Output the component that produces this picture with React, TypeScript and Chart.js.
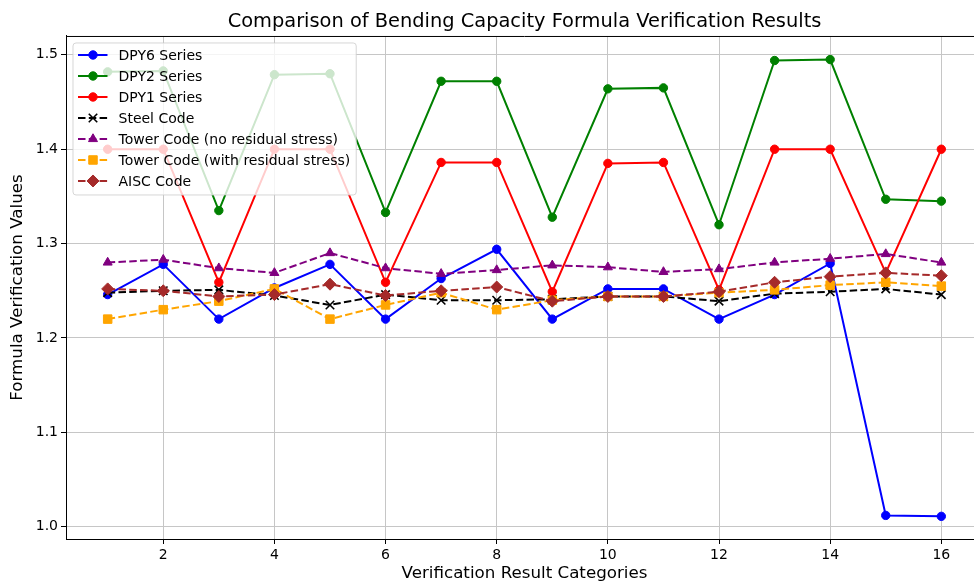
import React, { useEffect, useRef } from 'react';
import { Chart, registerables } from 'chart.js';

Chart.register(...registerables);

const categories = [1, 2, 3, 4, 5, 6, 7, 8, 9, 10, 11, 12, 13, 14, 15, 16];
const dpy6 = [1.246, 1.278, 1.220, 1.253, 1.278, 1.220, 1.263, 1.294, 1.220, 1.252, 1.252, 1.220, 1.246, 1.279, 1.012, 1.011];
const dpy2 = [1.482, 1.483, 1.335, 1.479, 1.480, 1.333, 1.472, 1.472, 1.328, 1.464, 1.465, 1.320, 1.494, 1.495, 1.347, 1.345];
const dpy1 = [1.400, 1.400, 1.259, 1.400, 1.400, 1.259, 1.386, 1.386, 1.249, 1.385, 1.386, 1.251, 1.400, 1.400, 1.269, 1.400];
const steelCode = [1.248, 1.250, 1.251, 1.245, 1.235, 1.246, 1.240, 1.240, 1.241, 1.244, 1.244, 1.239, 1.247, 1.249, 1.252, 1.246];
const towerNoResidual = [1.280, 1.283, 1.274, 1.269, 1.290, 1.274, 1.268, 1.272, 1.277, 1.275, 1.270, 1.273, 1.280, 1.284, 1.289, 1.280];
const towerWithResidual = [1.220, 1.230, 1.239, 1.252, 1.220, 1.235, 1.248, 1.230, 1.240, 1.244, 1.244, 1.248, 1.251, 1.256, 1.259, 1.255];
const aiscCode = [1.252, 1.250, 1.244, 1.246, 1.257, 1.245, 1.250, 1.254, 1.239, 1.244, 1.244, 1.249, 1.259, 1.265, 1.269, 1.266];

const xTicks = [2, 4, 6, 8, 10, 12, 14, 16];
const yTicks = [1.0, 1.1, 1.2, 1.3, 1.4, 1.5];

const seriesLabels = [
  'DPY6 Series',
  'DPY2 Series',
  'DPY1 Series',
  'Steel Code',
  'Tower Code (no residual stress)',
  'Tower Code (with residual stress)',
  'AISC Code',
];
const seriesValues = [dpy6, dpy2, dpy1, steelCode, towerNoResidual, towerWithResidual, aiscCode];

const titleText = 'Comparison of Bending Capacity Formula Verification Results';
const xTitle = 'Verification Result Categories';
const yTitle = 'Formula Verification Values';

const FONT = "'DejaVu Sans', sans-serif";

type Style = { color: string; dash: number[]; point: string; radius: number; bw: number };
const styles: Style[] = [
  { color: '#0000ff', dash: [], point: 'circle', radius: 4.2, bw: 1 },
  { color: '#008000', dash: [], point: 'circle', radius: 4.2, bw: 1 },
  { color: '#ff0000', dash: [], point: 'circle', radius: 4.2, bw: 1 },
  { color: '#000000', dash: [7.5, 3.3], point: 'crossRot', radius: 6, bw: 1.6 },
  { color: '#800080', dash: [7.5, 3.3], point: 'triangle', radius: 5.2, bw: 1 },
  { color: '#ffa500', dash: [7.5, 3.3], point: 'rect', radius: 6, bw: 1 },
  { color: '#a52a2a', dash: [7.5, 3.3], point: 'rectRot', radius: 6, bw: 1 },
];

function drawMarker(ctx: CanvasRenderingContext2D, s: Style, x: number, y: number) {
  const r = s.radius;
  ctx.save();
  ctx.setLineDash([]);
  ctx.fillStyle = s.color;
  ctx.strokeStyle = s.color;
  ctx.lineWidth = s.bw;
  ctx.beginPath();
  if (s.point === 'circle') {
    ctx.arc(x, y, r, 0, Math.PI * 2);
    ctx.fill();
    ctx.stroke();
  } else if (s.point === 'crossRot') {
    const d = r * Math.SQRT1_2;
    ctx.moveTo(x - d, y - d);
    ctx.lineTo(x + d, y + d);
    ctx.moveTo(x - d, y + d);
    ctx.lineTo(x + d, y - d);
    ctx.stroke();
  } else if (s.point === 'triangle') {
    ctx.moveTo(x, y - r);
    ctx.lineTo(x + r * Math.sin(Math.PI / 3), y + r * 0.5);
    ctx.lineTo(x - r * Math.sin(Math.PI / 3), y + r * 0.5);
    ctx.closePath();
    ctx.fill();
    ctx.stroke();
  } else if (s.point === 'rect') {
    const d = r * Math.SQRT1_2;
    ctx.rect(x - d, y - d, 2 * d, 2 * d);
    ctx.fill();
    ctx.stroke();
  } else if (s.point === 'rectRot') {
    ctx.moveTo(x, y - r);
    ctx.lineTo(x + r, y);
    ctx.lineTo(x, y + r);
    ctx.lineTo(x - r, y);
    ctx.closePath();
    ctx.fill();
    ctx.stroke();
  }
  ctx.restore();
}

const framePlugin = {
  id: 'frameAndLegend',
  afterDraw(chart: any) {
    const ctx: CanvasRenderingContext2D = chart.ctx;
    const area = chart.chartArea;
    ctx.save();
    // top and right spines
    ctx.strokeStyle = '#000';
    ctx.lineWidth = 1;
    ctx.beginPath();
    ctx.moveTo(area.left, area.top + 0.5);
    ctx.lineTo(area.right, area.top + 0.5);
    ctx.lineTo(area.right, area.bottom);
    ctx.stroke();

    // legend
    ctx.font = `14px ${FONT}`;
    let maxW = 0;
    seriesLabels.forEach((l) => {
      maxW = Math.max(maxW, ctx.measureText(l).width);
    });
    const bx = area.left + 7;
    const by = area.top + 7;
    const rowH = 21;
    const bw = 45.5 + maxW + 6;
    const bh = 12 + rowH * (seriesLabels.length - 1) + 14;
    ctx.fillStyle = 'rgba(255,255,255,0.8)';
    ctx.strokeStyle = 'rgba(204,204,204,0.8)';
    ctx.lineWidth = 1;
    ctx.beginPath();
    const rr = 3;
    ctx.moveTo(bx + rr, by);
    ctx.lineTo(bx + bw - rr, by);
    ctx.quadraticCurveTo(bx + bw, by, bx + bw, by + rr);
    ctx.lineTo(bx + bw, by + bh - rr);
    ctx.quadraticCurveTo(bx + bw, by + bh, bx + bw - rr, by + bh);
    ctx.lineTo(bx + rr, by + bh);
    ctx.quadraticCurveTo(bx, by + bh, bx, by + bh - rr);
    ctx.lineTo(bx, by + rr);
    ctx.quadraticCurveTo(bx, by, bx + rr, by);
    ctx.closePath();
    ctx.fill();
    ctx.stroke();

    seriesLabels.forEach((label, i) => {
      const s = styles[i];
      const cy = by + 12 + i * rowH;
      ctx.save();
      ctx.strokeStyle = s.color;
      ctx.lineWidth = 2;
      ctx.setLineDash(s.dash);
      ctx.beginPath();
      ctx.moveTo(bx + 5, cy);
      ctx.lineTo(bx + 34.5, cy);
      ctx.stroke();
      ctx.restore();
      drawMarker(ctx, s, bx + 20, cy);
      ctx.fillStyle = '#000';
      ctx.textBaseline = 'middle';
      ctx.textAlign = 'left';
      ctx.font = `14px ${FONT}`;
      ctx.fillText(label, bx + 45.5, cy + 1);
    });
    ctx.restore();
  },
};

export default function App() {
  const canvasRef = useRef<HTMLCanvasElement | null>(null);

  useEffect(() => {
    document.body.style.margin = '0';
    const canvas = canvasRef.current;
    if (!canvas) return;
    const datasets = seriesLabels.map((label, i) => {
      const s = styles[i];
      return {
        label,
        data: categories.map((c, j) => ({ x: c, y: seriesValues[i][j] })),
        borderColor: s.color,
        backgroundColor: s.color,
        borderWidth: 2,
        borderDash: s.dash,
        pointStyle: s.point,
        pointRadius: s.radius,
        pointBorderWidth: s.bw,
        pointBackgroundColor: s.color,
        pointBorderColor: s.color,
        tension: 0,
        order: seriesLabels.length - i,
      };
    });
    const chart = new Chart(canvas, {
      type: 'line',
      data: { datasets },
      options: {
        responsive: false,
        animation: false,
        devicePixelRatio: 1,
        layout: { autoPadding: false, padding: { left: 0, right: 2, top: 0, bottom: 0 } },
        plugins: {
          legend: { display: false },
          tooltip: { enabled: false },
          title: {
            display: true,
            text: titleText,
            fullSize: false,
            color: '#000',
            font: { family: FONT, size: 19.4, weight: 'normal', lineHeight: 1.2 },
            padding: { top: 10, bottom: 2.7 },
          },
        },
        scales: {
          x: {
            type: 'linear',
            min: 0.25,
            max: 16.75,
            afterBuildTicks: (scale: any) => {
              scale.ticks = xTicks.map((v) => ({ value: v }));
            },
            afterFit: (scale: any) => {
              scale.height = 45;
            },
            ticks: {
              color: '#000',
              font: { family: FONT, size: 14 },
              padding: 3,
              maxRotation: 0,
              autoSkip: false,
              callback: (v: any) => String(v),
            },
            grid: {
              color: '#c6c6c6',
              lineWidth: 1,
              drawTicks: true,
              tickLength: 5,
              tickColor: '#000',
            },
            border: { display: true, color: '#000', width: 1 },
            title: {
              display: true,
              text: xTitle,
              color: '#000',
              font: { family: FONT, size: 16.7, lineHeight: 1.2 },
              padding: { top: 4, bottom: 0 },
            },
          },
          y: {
            type: 'linear',
            min: 0.987,
            max: 1.52,
            afterBuildTicks: (scale: any) => {
              scale.ticks = yTicks.map((v) => ({ value: v }));
            },
            afterFit: (scale: any) => {
              scale.width = 66;
            },
            ticks: {
              color: '#000',
              font: { family: FONT, size: 14 },
              padding: 3,
              autoSkip: false,
              callback: (v: any) => Number(v).toFixed(1),
            },
            grid: {
              color: '#c6c6c6',
              lineWidth: 1,
              drawTicks: true,
              tickLength: 5,
              tickColor: '#000',
            },
            border: { display: true, color: '#000', width: 1 },
            title: {
              display: true,
              text: yTitle,
              color: '#000',
              font: { family: FONT, size: 16.7, lineHeight: 1.2 },
              padding: { top: 8, bottom: 0 },
            },
          },
        },
      },
      plugins: [framePlugin],
    } as any);
    return () => chart.destroy();
  }, []);

  return (
    <div style={{ width: 974, height: 584, overflow: 'hidden', background: '#fff' }}>
      <canvas ref={canvasRef} width={985} height={584} style={{ display: 'block' }} />
    </div>
  );
}
